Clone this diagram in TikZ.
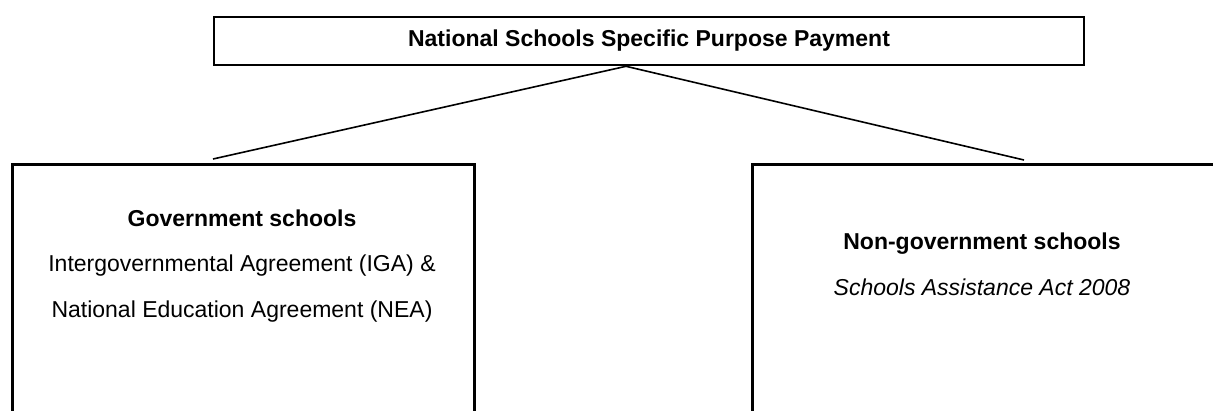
\documentclass[tikz,border=0pt]{standalone}
\usepackage{fontspec}
\setmainfont{Liberation Sans}
\usetikzlibrary{positioning}
\tikzset{
  box/.style   = {draw, line width=2.6pt, rectangle, inner sep=0pt},
  head/.style  = {font=\fontsize{23}{28}\selectfont\bfseries},
  body/.style  = {font=\fontsize{23}{28}\selectfont},
  act/.style   = {font=\fontsize{23}{28}\selectfont\itshape},
  link/.style  = {line width=1.6pt}
}

\begin{document}
\begin{tikzpicture}[x=1pt, y=-1pt]
\useasboundingbox (0,0) rectangle (1213,410);
\clip (0,0) rectangle (1213,410);

% the payment at the top
\node[box, head, minimum width=870pt, minimum height=48pt] (nssp) at (649,41) {National Schools Specific Purpose Payment};

% the two sectors, cut off by the page edge
\node[box, minimum width=462pt, minimum height=300pt, anchor=north west] (gov) at (11,163) {};
\node[box, minimum width=480pt, minimum height=300pt, anchor=north west] (nongov) at (751,163) {};

% texts in the sector boxes
\node[head] (govhead) at (242,218) {Government schools};
\node[body] (iga) at (242,266) {Intergovernmental Agreement (IGA) \&};
\node[body] (nea) at (242,312) {National Education Agreement (NEA)};

\node[head] (nongovhead) at (982,244) {Non-government schools};
\node[act] (saa) at (982,287) {Schools Assistance Act 2008};

% lines from the payment down to each sector
\coordinate (apex) at ([xshift=-23pt]nssp.south);
\coordinate (govend) at (213,159);
\coordinate (nongovend) at (1024,160);
\draw[link] (apex) -- (govend);
\draw[link] (apex) -- (nongovend);
\end{tikzpicture}
\end{document}
